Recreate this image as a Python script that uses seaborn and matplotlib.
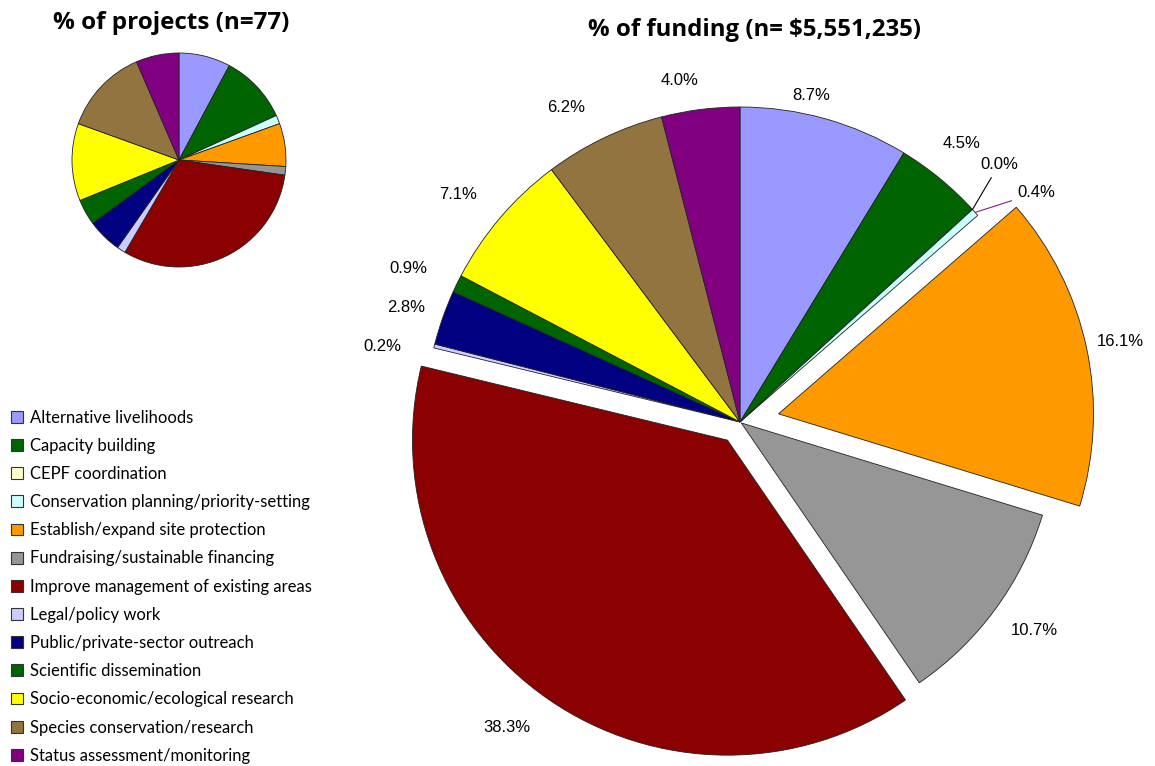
import numpy as np
import matplotlib
matplotlib.use("Agg")
import matplotlib.pyplot as plt
import seaborn as sns
from matplotlib.patches import Patch


CATEGORIES = [
    "Alternative livelihoods",
    "Capacity building",
    "CEPF coordination",
    "Conservation planning/priority-setting",
    "Establish/expand site protection",
    "Fundraising/sustainable financing",
    "Improve management of existing areas",
    "Legal/policy work",
    "Public/private-sector outreach",
    "Scientific dissemination",
    "Socio-economic/ecological research",
    "Species conservation/research",
    "Status assessment/monitoring",
]

# number of projects per category (n=77)
PROJECT_COUNTS = [6, 8, 0, 1, 5, 1, 24, 1, 4, 3, 9, 10, 5]

# share of funding per category, %
FUNDING_PCT = [8.7, 4.5, 0.0, 0.4, 16.1, 10.7, 38.3, 0.2, 2.8, 0.9, 7.1, 6.2, 4.0]

COLORS = [
    "#9999FF", "#006400", "#FFFFCC", "#CCFFFF", "#FF9900", "#969696",
    "#8B0000", "#CCCCFF", "#000080", "#006400", "#FFFF00", "#917440",
    "#800080",
]

# styling for the big pie
EXPLODE = [0, 0, 0, 0, 0.125, 0.005, 0.07, 0, 0, 0, 0, 0, 0]
LABEL_DIST = [1.06, 1.13, 1.16, 1.19, 1.11, 1.14, 1.15, 1.16, 1.12, 1.16, 1.15, 1.14, 1.10]
LABEL_SHIFT = [-3.3, -1.0, -2.4, 4.0, 0, -1.0, 3.0, -2.0, -0.5, -1.2, -1.6, -3.3, -2.8]

W, H = 1155, 766


def px_axes(fig, cx, cy, r):
    """Square axes centred on pixel (cx, cy) spanning -r..r in pixel units."""
    return fig.add_axes([(cx - r) / W, (H - cy - r) / H, 2 * r / W, 2 * r / H])


def main():
    sns.set_theme(style="white")
    plt.rcParams["font.family"] = ["Liberation Sans", "DejaVu Sans"]
    plt.rcParams["text.color"] = "black"
    palette = sns.color_palette(COLORS)

    fig = plt.figure(figsize=(W / 100, H / 100), dpi=100)
    fig.patch.set_facecolor("white")

    # small pie: % of projects
    ax1 = px_axes(fig, 179, 160, 107)
    ax1.pie(PROJECT_COUNTS, colors=palette, startangle=90, counterclock=False,
            radius=1, wedgeprops=dict(edgecolor="#222222", linewidth=0.6))
    ax1.set_xlim(-1, 1)
    ax1.set_ylim(-1, 1)
    ax1.set_axis_off()
    fig.text(171 / W, 1 - 23 / H, "% of projects (n=77)", ha="center", va="center",
             fontsize=17.5, fontweight="bold", family=["Open Sans", "DejaVu Sans"])

    # big pie: % of funding
    R = 315
    lim = 1.45
    ax2 = px_axes(fig, 740, 422, R * lim)
    wedges, _ = ax2.pie(FUNDING_PCT, colors=palette, startangle=90, counterclock=False,
                        explode=EXPLODE, radius=1,
                        wedgeprops=dict(edgecolor="#222222", linewidth=0.6))
    ax2.set_xlim(-lim, lim)
    ax2.set_ylim(-lim, lim)
    ax2.set_axis_off()

    for i, w in enumerate(wedges):
        mid = np.deg2rad((w.theta1 + w.theta2) / 2 - LABEL_SHIFT[i])
        cx, cy = w.center
        d = LABEL_DIST[i]
        tx, ty = cx + d * np.cos(mid), cy + d * np.sin(mid)
        txt = f"{FUNDING_PCT[i]:.1f}%"
        if i in (2, 3):
            edge = mid + np.deg2rad(LABEL_SHIFT[i])
            ex, ey = cx + np.cos(edge), cy + np.sin(edge)
            color = "black" if i == 2 else "#8B1A8B"
            ax2.annotate(txt, xy=(ex, ey), xytext=(tx, ty), ha="center", va="center",
                         fontsize=12,
                         arrowprops=dict(arrowstyle="-", color=color, lw=0.8,
                                         shrinkA=2, shrinkB=0,
                                         connectionstyle="arc3"))
        else:
            ax2.text(tx, ty, txt, ha="center", va="center", fontsize=12)

    fig.text(754 / W, 1 - 30 / H, "% of funding (n= $5,551,235)", ha="center", va="center",
             fontsize=17.3, fontweight="bold", family=["Open Sans", "DejaVu Sans"])

    # legend
    handles = [Patch(facecolor=c, edgecolor="#333333", linewidth=0.8) for c in palette]
    fig.legend(handles, CATEGORIES, loc="upper left", bbox_to_anchor=(4 / W, 1 - 403 / H),
               frameon=False, prop=dict(family="Lato", size=12),
               handlelength=0.72, handleheight=0.72, handletextpad=0.45,
               labelspacing=0.73, borderaxespad=0)

    fig.savefig("out.png", dpi=100, facecolor="white")


if __name__ == "__main__":
    main()
